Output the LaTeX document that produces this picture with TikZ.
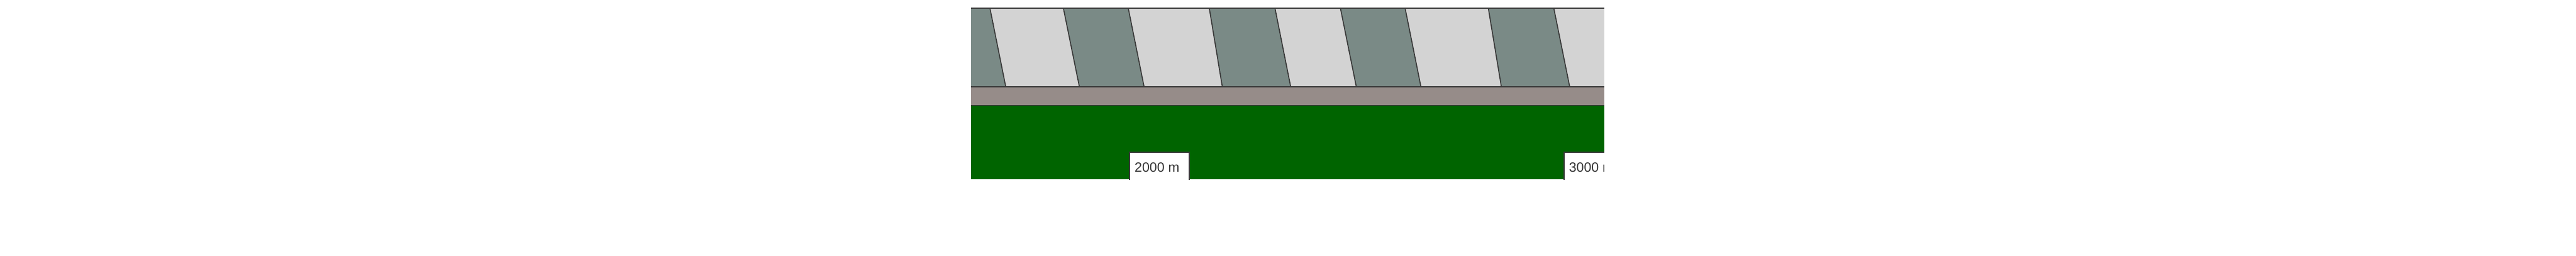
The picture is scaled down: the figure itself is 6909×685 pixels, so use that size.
\documentclass[tikz,border=0pt]{standalone}
\usepackage{fontspec}
\setmainfont{Liberation Sans}
\definecolor{stripedark}{HTML}{7A8A86}
\definecolor{stripelight}{HTML}{D3D3D3}
\definecolor{bandgray}{HTML}{968C89}
\definecolor{fieldgreen}{HTML}{006400}
\definecolor{edgegray}{HTML}{383838}
\definecolor{textgray}{HTML}{333333}
\tikzset{
  edge/.style={draw=edgegray, line width=3pt},
  thinedge/.style={draw=edgegray, line width=2pt},
  markbox/.style={rectangle, fill=white, inner sep=0pt, minimum width=160pt, minimum height=74pt},
  marktext/.style={anchor=base west, inner sep=0pt, text=textgray, font=\fontsize{36}{40}\selectfont},
}
\begin{document}
\begin{tikzpicture}[x=1pt,y=-1pt]
\useasboundingbox (0,0) rectangle (6909,685);
\fill[white] (0,0) rectangle (6909,685);
\begin{scope}
\clip (2604,0) rectangle (4302.5,685);
% band and field
\fill[bandgray] (2604,232.7) rectangle (4302.5,283);
\fill[fieldgreen] (2604,283) rectangle (4302.5,480);
\draw[thinedge] (2604,283) -- (4302.5,283);
% stripes
\fill[stripedark] (2604,21.7) rectangle (4302.5,232.7);
\foreach \ta/\ba/\tb/\bb in {2655/2697.5/2852/2895, 3026/3068.5/3243.3/3278.3, 3419.5/3461.7/3595/3637.7, 3768.5/3811/3991.7/4026.7, 4167.3/4210/4400/4442}
  \fill[stripelight] (\ta,21.7) -- (\tb,21.7) -- (\bb,232.7) -- (\ba,232.7) -- cycle;
\foreach \t/\b in {2655/2697.5, 2852/2895, 3026/3068.5, 3243.3/3278.3, 3419.5/3461.7, 3595/3637.7, 3768.5/3811, 3991.7/4026.7, 4167.3/4210}
  \draw[edgegray, line width=2.7pt] (\t,21.7) -- (\b,232.7);
\draw[edge] (2604,21.7) -- (4302.5,21.7);
\draw[edge] (2604,232.7) -- (4302.5,232.7);
% distance markers
\node[markbox] (box2000) at (3109,445) {};
\draw[edge] (box2000.south west) -- (box2000.north west) -- (box2000.north east) -- (box2000.south east);
\node[marktext] (lab2000) at (3043,462) {2000 m};
\node[markbox] (box3000) at (4275,445) {};
\draw[edge] (box3000.south west) -- (box3000.north west) -- (box3000.north east) -- (box3000.south east);
\node[marktext] (lab3000) at (4208,462) {3000 m};
\end{scope}
\end{tikzpicture}
\end{document}
